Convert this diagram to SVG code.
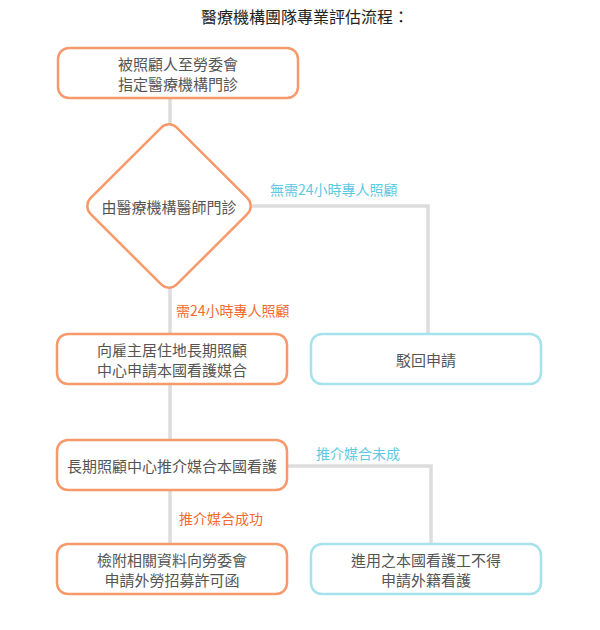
<svg xmlns="http://www.w3.org/2000/svg" width="600" height="630" viewBox="0 0 600 630">
<style>
text{font-family:"Noto Sans CJK TC","Noto Sans CJK SC",sans-serif;}
.t{font-size:15px;fill:#555;text-anchor:middle;dominant-baseline:central;}
.title{font-size:16px;fill:#222;text-anchor:middle;dominant-baseline:central;}
.o{fill:#fff;stroke:#F7996A;stroke-width:2.5;}
.b{fill:#fff;stroke:#A5E2EE;stroke-width:2.5;}
.lo{font-size:14px;fill:#F26A2E;dominant-baseline:central;}
.lb{font-size:14px;fill:#5DC9E2;dominant-baseline:central;}
.c{fill:none;stroke:#DDDDDD;stroke-width:3.5;}
</style>
<rect width="600" height="630" fill="#fff"/>
<text class="title" x="305" y="16">醫療機構團隊專業評估流程：</text>
<g id="connectors">
<path class="c" d="M170 98 V544"/>
<path class="c" d="M252 206 H428 V334"/>
<path class="c" d="M287 466 H431 V544"/>
</g>
<g id="labels">
<text class="lb" x="270" y="189">無需24小時專人照顧</text>
<text class="lo" x="176" y="310">需24小時專人照顧</text>
<text class="lb" x="316" y="453">推介媒合未成</text>
<text class="lo" x="179" y="518">推介媒合成功</text>
</g>
<g id="n1">
<rect class="o" x="58" y="48" width="240" height="50" rx="11"/>
<text class="t" x="178" y="63">被照顧人至勞委會</text>
<text class="t" x="178" y="83">指定醫療機構門診</text>
</g>
<g id="n2">
<rect class="o" x="108" y="145" width="122" height="122" rx="11" transform="rotate(45 169 206)"/>
<text class="t" x="169" y="206">由醫療機構醫師門診</text>
</g>
<g id="n3">
<rect class="o" x="57" y="334" width="230" height="50" rx="11"/>
<text class="t" x="172" y="349">向雇主居住地長期照顧</text>
<text class="t" x="172" y="369">中心申請本國看護媒合</text>
</g>
<g id="n4">
<rect class="b" x="311" y="334" width="230" height="50" rx="11"/>
<text class="t" x="426" y="359">駁回申請</text>
</g>
<g id="n5">
<rect class="o" x="57" y="440" width="230" height="50" rx="11"/>
<text class="t" x="172" y="465">長期照顧中心推介媒合本國看護</text>
</g>
<g id="n6">
<rect class="o" x="57" y="544" width="230" height="50" rx="11"/>
<text class="t" x="172" y="559">檢附相關資料向勞委會</text>
<text class="t" x="172" y="579">申請外勞招募許可函</text>
</g>
<g id="n7">
<rect class="b" x="311" y="544" width="230" height="50" rx="11"/>
<text class="t" x="426" y="559">進用之本國看護工不得</text>
<text class="t" x="426" y="579">申請外籍看護</text>
</g>
</svg>
